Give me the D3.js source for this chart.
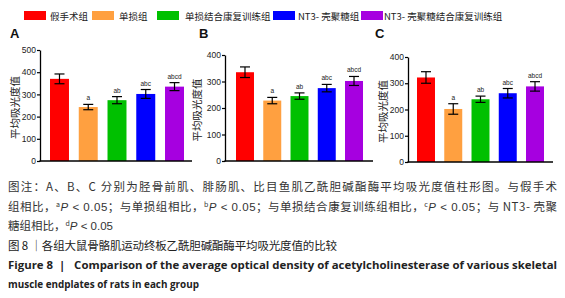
<!DOCTYPE html>
<html><head><meta charset="utf-8">
<script src="https://cdn.jsdelivr.net/npm/d3@7"></script>
<style>
html,body{margin:0;padding:0;background:#fff;}
svg{display:block;}
</style></head>
<body>
<svg id="c" width="565" height="298"></svg>
<script>
const groups = ["假手术组","单损组","单损结合康复训练组","NT3- 壳聚糖组","NT3- 壳聚糖结合康复训练组"];
const colors = ["#ff0000","#ffa040","#00c000","#0000ff","#a600e0"];
const panelLabels = ["A","B","C"];
const valuesA = [370,243,274,302,335];
const errorsA = [22,12,16,20,18];
const valuesB = [335,228,245,275,302];
const errorsB = [20,12,12,14,17];
const valuesC = [322,202,239,262,288];
const errorsC = [22,20,12,18,18];
const sigLabels = ["","a","ab","abc","abcd"];
const ticksA = [0,100,200,300,400,500];
const ticksBC = [0,100,200,300,400];
const yTitle = "平均吸光度值";

const svg = d3.select("#c");
const FONT = "Liberation Sans, Arial, sans-serif";
const CJK = "'Noto Sans CJK SC', sans-serif";

// Legend
const legendX = [24, 92, 157, 273, 361];
const legendTextX = [50, 119, 185, 298, 384];
groups.forEach((g,i)=>{
  svg.append("rect").attr("x",legendX[i]).attr("y",11).attr("width",22).attr("height",9).attr("fill",colors[i]);
  svg.append("text").attr("x",legendTextX[i]).attr("y",19.5).attr("font-family",CJK).attr("font-size",9.5)
    .attr("fill","#222").text(g);
});

const panels = [
  {vals:valuesA, errs:errorsA, ticks:ticksA, max:500, ax:40, axEnd:192, top:50, base:161, b0:50, b1:184, label:panelLabels[0], lx:10, ytx:15},
  {vals:valuesB, errs:errorsB, ticks:ticksBC, max:400, ax:225, axEnd:373, top:55, base:161, b0:236, b1:363, label:panelLabels[1], lx:199, ytx:197},
  {vals:valuesC, errs:errorsC, ticks:ticksBC, max:400, ax:408, axEnd:553, top:57, base:162, b0:417, b1:544, label:panelLabels[2], lx:375, ytx:383},
];

panels.forEach(p=>{
  const g = svg.append("g");
  const y = d3.scaleLinear().domain([0,p.max]).range([p.base,p.top]);
  const x = d3.scaleBand().domain(d3.range(5)).range([p.b0,p.b1]).paddingInner(0.34).paddingOuter(0);
  g.selectAll("rect.bar").data(p.vals).enter().append("rect")
    .attr("x",(d,i)=>x(i)).attr("width",x.bandwidth())
    .attr("y",d=>y(d)).attr("height",d=>p.base-y(d))
    .attr("fill",(d,i)=>colors[i]);
  p.vals.forEach((v,i)=>{
    const cx = x(i)+x.bandwidth()/2;
    const e = p.errs[i];
    g.append("line").attr("x1",cx).attr("x2",cx).attr("y1",y(v+e)).attr("y2",y(v-e)).attr("stroke","#000").attr("stroke-width",1.2);
    [v+e,v-e].forEach(t=>{
      g.append("line").attr("x1",cx-5).attr("x2",cx+5).attr("y1",y(t)).attr("y2",y(t)).attr("stroke","#000").attr("stroke-width",1.2);
    });
    if(sigLabels[i]){
      g.append("text").attr("x",cx).attr("y",y(v+e)-4).attr("text-anchor","middle")
        .attr("font-family",FONT).attr("font-size",6.5).attr("fill","#222").text(sigLabels[i]);
    }
  });
  const yAxis = d3.axisLeft(y).tickValues(p.ticks).tickSize(3).tickPadding(1).tickSizeOuter(0);
  const ya = g.append("g").attr("transform",`translate(${p.ax},0)`).call(yAxis);
  ya.select(".domain").attr("stroke","#000").attr("stroke-width",1.3);
  ya.selectAll(".tick line").attr("stroke","#000").attr("stroke-width",1.2);
  ya.selectAll(".tick text").attr("font-family",FONT).attr("font-size",8.5).attr("fill","#222");
  g.append("line").attr("x1",p.ax-0.6).attr("x2",p.axEnd).attr("y1",p.base).attr("y2",p.base).attr("stroke","#000").attr("stroke-width",1.4);
  g.append("text").attr("transform",`translate(${p.ytx+4},${(p.top+p.base)/2+2}) rotate(-90)`)
    .attr("text-anchor","middle").attr("font-family",CJK).attr("font-size",10.5).attr("fill","#222").text(yTitle);
  g.append("text").attr("x",p.lx).attr("y",38).attr("font-family",FONT).attr("font-size",13).attr("font-weight","bold").attr("fill","#111").text(p.label);
});

// Caption
const cap = svg.append("g").attr("font-family",CJK).attr("fill","#333");
function sup(t, s, rest){
  t.append("tspan").attr("font-size",7).attr("dy",-4).text(s);
  t.append("tspan").attr("font-family",FONT).attr("font-style","italic").attr("dy",4).text("P");
  t.append("tspan").attr("font-family",FONT).text(rest);
}
cap.append("text").attr("x",8).attr("y",191).attr("font-size",11.5).attr("textLength",549).attr("lengthAdjust","spacing")
  .text("图注：A、B、C 分别为胫骨前肌、腓肠肌、比目鱼肌乙酰胆碱酯酶平均吸光度值柱形图。与假手术");
const l2 = cap.append("text").attr("x",8).attr("y",211).attr("font-size",11.5).attr("textLength",549).attr("lengthAdjust","spacing");
l2.append("tspan").text("组相比，"); sup(l2,"a"," < 0.05");
l2.append("tspan").text("；与单损组相比，"); sup(l2,"b"," < 0.05");
l2.append("tspan").text("；与单损结合康复训练组相比，"); sup(l2,"c"," < 0.05");
l2.append("tspan").text("；与 NT3- 壳聚");
const l3 = cap.append("text").attr("x",8).attr("y",230).attr("font-size",11.5);
l3.append("tspan").text("糖组相比，"); sup(l3,"d"," < 0.05");
cap.append("text").attr("x",8).attr("y",249.5).attr("font-size",11.5).attr("fill","#222").attr("textLength",329).attr("lengthAdjust","spacing")
  .text("图 8 ｜各组大鼠骨骼肌运动终板乙酰胆碱酯酶平均吸光度值的比较");
const en = svg.append("g").attr("font-family","'Open Sans', sans-serif").attr("font-weight","bold").attr("fill","#222").attr("font-size",10.5);
en.append("text").attr("x",8).attr("y",269).attr("textLength",549).attr("lengthAdjust","spacingAndGlyphs")
  .text("Figure 8\u00a0\u00a0|\u00a0\u00a0\u00a0Comparison of the average optical density of acetylcholinesterase of various skeletal");
en.append("text").attr("x",8).attr("y",288).attr("textLength",191).attr("lengthAdjust","spacingAndGlyphs")
  .text("muscle endplates of rats in each group");
</script>
</body></html>
